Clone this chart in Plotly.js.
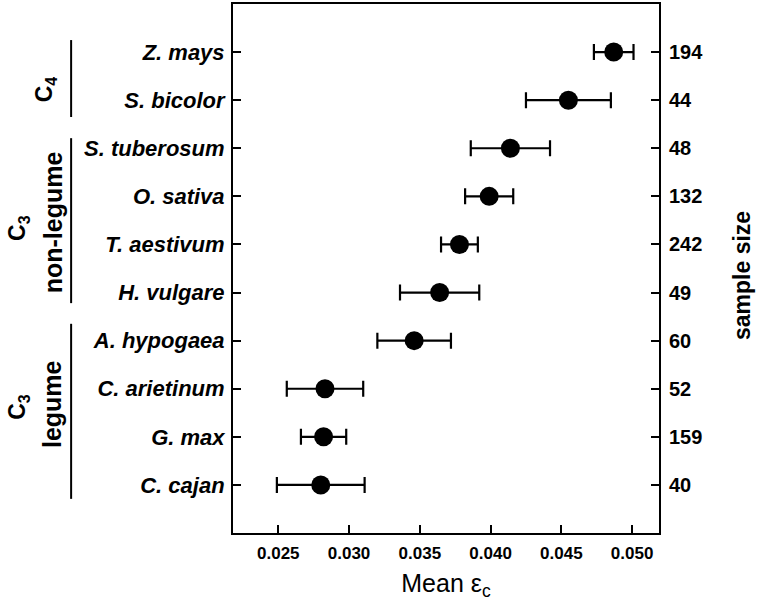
<!DOCTYPE html>
<html>
<head>
<meta charset="utf-8">
<script src="https://cdn.plot.ly/plotly-3.0.1.min.js"></script>
<style>html,body{margin:0;padding:0;background:#fff;}#chart{width:757px;height:605px;}</style>
</head>
<body>
<div id="chart"></div>
<script>
// Species listed from bottom to top
const species = ["C. cajan", "G. max", "C. arietinum", "A. hypogaea", "H. vulgare",
                 "T. aestivum", "O. sativa", "S. tuberosum", "S. bicolor", "Z. mays"];
const meanEc = [0.0280, 0.0282, 0.0283, 0.0346, 0.0364, 0.0378, 0.0399, 0.0414, 0.0455, 0.0487];
const errEc  = [0.0031, 0.0016, 0.0027, 0.0026, 0.0028, 0.0013, 0.0017, 0.0028, 0.0030, 0.0014];
const sampleSize = ["40", "159", "52", "60", "49", "242", "132", "48", "44", "194"];
const xTicks = [0.025, 0.030, 0.035, 0.040, 0.045, 0.050];

const pos = species.map((s, i) => i);
const FONT = "Liberation Sans, Arial, Helvetica, sans-serif";

const traces = [
  {
    x: meanEc, y: pos, type: "scatter", mode: "markers",
    marker: {color: "#000", size: 19},
    error_x: {type: "data", array: errEc, visible: true, color: "#000", thickness: 2.2, width: 8},
    showlegend: false, hoverinfo: "x"
  },
  {
    x: meanEc, y: pos, yaxis: "y2", type: "scatter", mode: "markers",
    marker: {opacity: 0}, showlegend: false, hoverinfo: "skip"
  }
];

const layout = {
  width: 757, height: 605,
  margin: {l: 233, r: 98, t: 4, b: 72},
  paper_bgcolor: "#fff", plot_bgcolor: "#fff",
  font: {family: FONT, color: "#000"},
  xaxis: {
    range: [0.0218, 0.0519], tickvals: xTicks,
    ticktext: xTicks.map(v => v.toFixed(3)),
    ticks: "inside", ticklen: 8, tickwidth: 2, tickcolor: "#000",
    showline: true, linewidth: 2, linecolor: "#000", mirror: true,
    showgrid: false, zeroline: false,
    tickfont: {size: 17, family: FONT, weight: "bold"},
    ticklabelstandoff: 4,
    title: {text: "Mean ε<sub>c</sub>", font: {size: 25, family: FONT}, standoff: 12}
  },
  yaxis: {
    range: [-1, 10], tickvals: pos,
    ticktext: species.map(s => "<b><i>" + s + "</i></b>"),
    ticks: "inside", ticklen: 8, tickwidth: 2, tickcolor: "#000",
    showline: true, linewidth: 2, linecolor: "#000",
    showgrid: false, zeroline: false,
    tickfont: {size: 22, family: FONT},
    ticklabelstandoff: 2
  },
  yaxis2: {
    range: [-1, 10], overlaying: "y", side: "right", tickvals: pos,
    ticktext: sampleSize.map(s => "<b>" + s + "</b>"),
    ticks: "inside", ticklen: 8, tickwidth: 2, tickcolor: "#000",
    showline: true, linewidth: 2, linecolor: "#000",
    showgrid: false, zeroline: false,
    tickfont: {size: 20, family: FONT},
    ticklabelstandoff: 4
  },
  shapes: [
    {type: "line", xref: "paper", yref: "y", x0: -0.380, x1: -0.380, y0: 9.25, y1: 7.65, line: {color: "#000", width: 2}},
    {type: "line", xref: "paper", yref: "y", x0: -0.380, x1: -0.380, y0: 7.21, y1: 3.78, line: {color: "#000", width: 2}},
    {type: "line", xref: "paper", yref: "y", x0: -0.380, x1: -0.380, y0: 3.35, y1: -0.29, line: {color: "#000", width: 2}}
  ],
  annotations: [
    {text: "<b>C<sub>4</sub></b>", xref: "paper", yref: "y", x: -0.441, y: 8.23, textangle: -90, showarrow: false, xanchor: "center", yanchor: "middle", font: {size: 23, family: FONT}},
    {text: "<b>C<sub>3</sub></b>", xref: "paper", yref: "y", x: -0.505, y: 5.34, textangle: -90, showarrow: false, xanchor: "center", yanchor: "middle", font: {size: 23, family: FONT}},
    {text: "<b>non-legume</b>", xref: "paper", yref: "y", x: -0.4225, y: 5.46, textangle: -90, showarrow: false, xanchor: "center", yanchor: "middle", font: {size: 25, family: FONT}},
    {text: "<b>C<sub>3</sub></b>", xref: "paper", yref: "y", x: -0.505, y: 1.62, textangle: -90, showarrow: false, xanchor: "center", yanchor: "middle", font: {size: 23, family: FONT}},
    {text: "<b>legume</b>", xref: "paper", yref: "y", x: -0.425, y: 1.68, textangle: -90, showarrow: false, xanchor: "center", yanchor: "middle", font: {size: 25, family: FONT}},
    {text: "<b>sample size</b>", xref: "paper", yref: "paper", x: 1.195, y: 0.486, textangle: -90, showarrow: false, xanchor: "center", yanchor: "middle", font: {size: 23, family: FONT}}
  ]
};

Plotly.newPlot("chart", traces, layout, {displayModeBar: false, staticPlot: true});
</script>
</body>
</html>
